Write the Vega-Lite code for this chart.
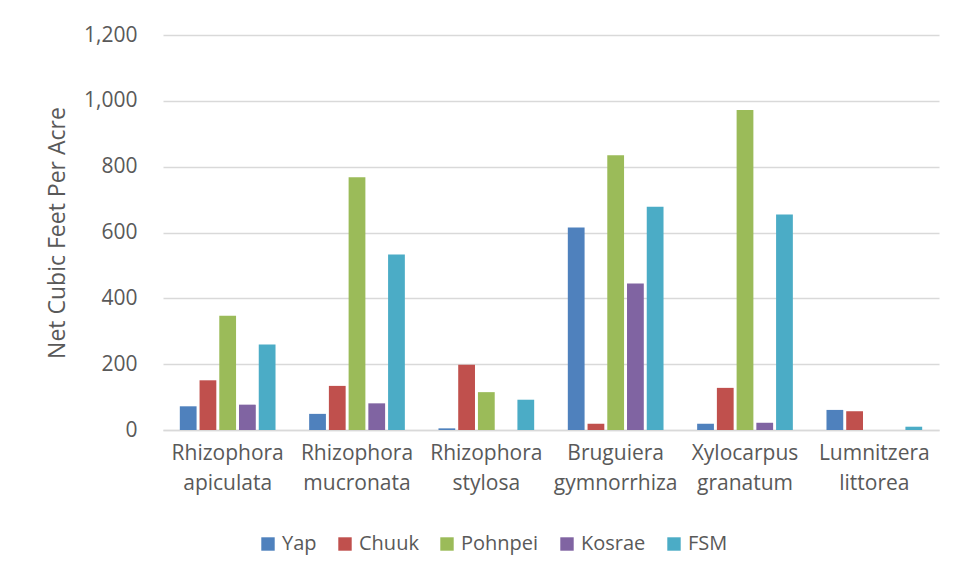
{
  "$schema": "https://vega.github.io/schema/vega-lite/v6.json",
  "autosize": {"type": "none"},
  "padding": {"left": 163, "top": 35, "right": 17, "bottom": 150},
  "width": 776,
  "height": 395,
  "background": "white",
  "config": {
    "view": {"stroke": null},
    "font": "Open Sans",
    "axis": {"labelColor": "#595959", "titleColor": "#595959", "labelFont": "Open Sans", "titleFont": "Open Sans"},
    "legend": {"labelColor": "#595959", "labelFont": "Open Sans"}
  },
  "data": {
    "values": [
      {"species": "Rhizophora apiculata", "island": "Yap", "value": 72},
      {"species": "Rhizophora apiculata", "island": "Chuuk", "value": 151},
      {"species": "Rhizophora apiculata", "island": "Pohnpei", "value": 347},
      {"species": "Rhizophora apiculata", "island": "Kosrae", "value": 77},
      {"species": "Rhizophora apiculata", "island": "FSM", "value": 260},
      {"species": "Rhizophora mucronata", "island": "Yap", "value": 49},
      {"species": "Rhizophora mucronata", "island": "Chuuk", "value": 134},
      {"species": "Rhizophora mucronata", "island": "Pohnpei", "value": 768},
      {"species": "Rhizophora mucronata", "island": "Kosrae", "value": 81},
      {"species": "Rhizophora mucronata", "island": "FSM", "value": 533},
      {"species": "Rhizophora stylosa", "island": "Yap", "value": 5},
      {"species": "Rhizophora stylosa", "island": "Chuuk", "value": 198},
      {"species": "Rhizophora stylosa", "island": "Pohnpei", "value": 115},
      {"species": "Rhizophora stylosa", "island": "Kosrae", "value": 0},
      {"species": "Rhizophora stylosa", "island": "FSM", "value": 92},
      {"species": "Bruguiera gymnorrhiza", "island": "Yap", "value": 615},
      {"species": "Bruguiera gymnorrhiza", "island": "Chuuk", "value": 19},
      {"species": "Bruguiera gymnorrhiza", "island": "Pohnpei", "value": 835},
      {"species": "Bruguiera gymnorrhiza", "island": "Kosrae", "value": 445},
      {"species": "Bruguiera gymnorrhiza", "island": "FSM", "value": 678},
      {"species": "Xylocarpus granatum", "island": "Yap", "value": 19},
      {"species": "Xylocarpus granatum", "island": "Chuuk", "value": 128},
      {"species": "Xylocarpus granatum", "island": "Pohnpei", "value": 972},
      {"species": "Xylocarpus granatum", "island": "Kosrae", "value": 22},
      {"species": "Xylocarpus granatum", "island": "FSM", "value": 655},
      {"species": "Lumnitzera littorea", "island": "Yap", "value": 61},
      {"species": "Lumnitzera littorea", "island": "Chuuk", "value": 57},
      {"species": "Lumnitzera littorea", "island": "Pohnpei", "value": 0},
      {"species": "Lumnitzera littorea", "island": "Kosrae", "value": 0},
      {"species": "Lumnitzera littorea", "island": "FSM", "value": 10}
    ]
  },
  "mark": {"type": "bar"},
  "encoding": {
    "x": {
      "field": "species",
      "type": "nominal",
      "sort": null,
      "scale": {"paddingInner": 0.26, "paddingOuter": 0.13},
      "axis": {
        "title": null,
        "labelAngle": 0,
        "labelExpr": "split(datum.label, ' ')",
        "labelFontSize": 21,
        "labelLineHeight": 30,
        "labelPadding": 12,
        "domain": true,
        "domainColor": "#d9d9d9",
        "domainWidth": 1.5,
        "ticks": false,
        "grid": false
      }
    },
    "xOffset": {
      "field": "island",
      "type": "nominal",
      "sort": ["Yap", "Chuuk", "Pohnpei", "Kosrae", "FSM"],
      "scale": {"paddingInner": 0.15, "paddingOuter": 0}
    },
    "y": {
      "field": "value",
      "type": "quantitative",
      "scale": {"domain": [0, 1200], "nice": false},
      "axis": {
        "title": "Net Cubic Feet Per Acre",
        "titleFontSize": 23,
        "titleFontWeight": "normal",
        "titlePadding": 14,
        "values": [0, 200, 400, 600, 800, 1000, 1200],
        "format": ",d",
        "labelFontSize": 21,
        "labelPadding": 26,
        "domain": false,
        "ticks": false,
        "gridColor": "#d9d9d9",
        "gridWidth": 1.5
      }
    },
    "color": {
      "field": "island",
      "type": "nominal",
      "sort": ["Yap", "Chuuk", "Pohnpei", "Kosrae", "FSM"],
      "scale": {
        "domain": ["Yap", "Chuuk", "Pohnpei", "Kosrae", "FSM"],
        "range": ["#4F81BD", "#C0504D", "#9BBB59", "#8064A2", "#4BACC6"]
      },
      "legend": {
        "title": null,
        "orient": "none",
        "direction": "horizontal",
        "legendX": 95,
        "legendY": 499,
        "symbolType": "square",
        "symbolSize": 180,
        "symbolStrokeWidth": 0,
        "labelFontSize": 20,
        "labelOffset": 4,
        "columnPadding": 18
      }
    }
  }
}
